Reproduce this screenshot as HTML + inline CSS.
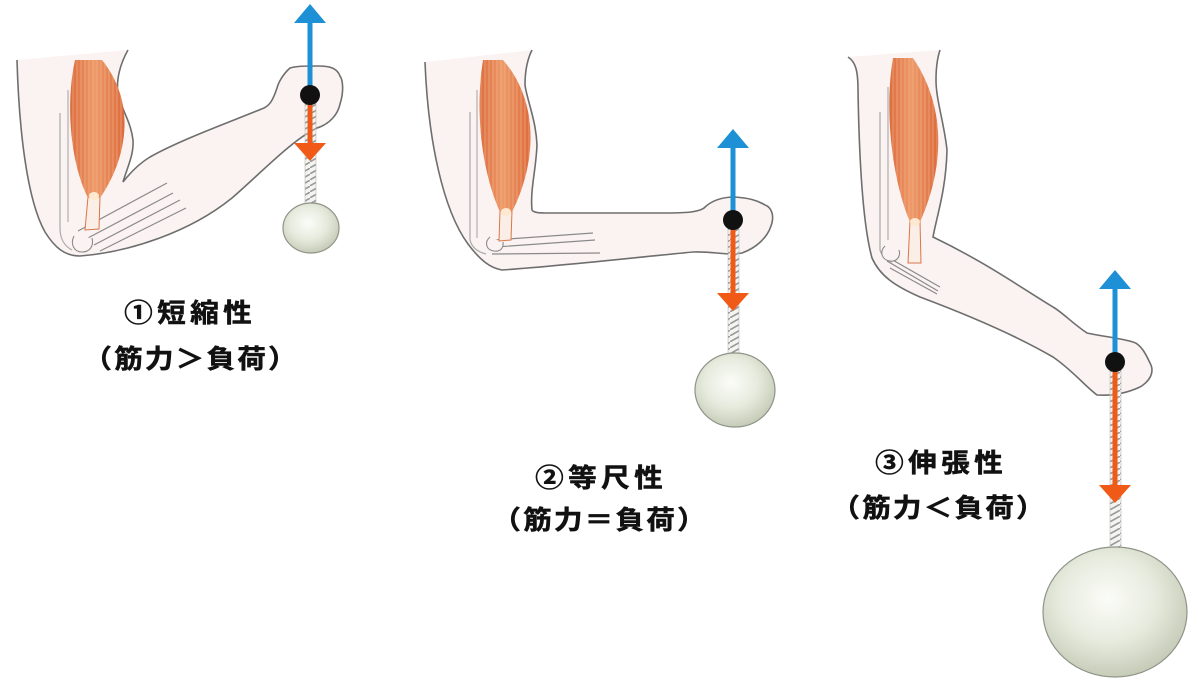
<!DOCTYPE html>
<html>
<head>
<meta charset="utf-8">
<style>
html,body{margin:0;padding:0;background:#fff;}
#wrap{position:relative;width:1198px;height:686px;overflow:hidden;background:#fff;}
svg{position:absolute;left:0;top:0;}
.t{position:absolute;width:400px;text-align:center;font-family:"Noto Sans CJK JP","Liberation Sans",sans-serif;font-weight:700;font-size:26px;line-height:30px;color:#111;white-space:nowrap;transform:scaleX(1.1);transform-origin:center center;-webkit-text-stroke:0.5px #111;}
.l1{letter-spacing:4px;padding-left:4px;box-sizing:border-box;}
.l2{letter-spacing:2px;padding-left:2px;box-sizing:border-box;}
</style>
</head>
<body>
<div id="wrap">
<svg width="1198" height="686" viewBox="0 0 1198 686" xmlns="http://www.w3.org/2000/svg">
<defs>
  <radialGradient id="ball" cx="45%" cy="40%" r="60%">
    <stop offset="0%" stop-color="#fbfcf8"/>
    <stop offset="55%" stop-color="#e7ebde"/>
    <stop offset="100%" stop-color="#c6ccb8"/>
  </radialGradient>
  <linearGradient id="mus" x1="0" y1="0" x2="1" y2="0">
    <stop offset="0%" stop-color="#dc6d3e"/>
    <stop offset="45%" stop-color="#ee9a68"/>
    <stop offset="100%" stop-color="#dc6a3a"/>
  </linearGradient>
  <pattern id="rope" width="10" height="6" patternUnits="userSpaceOnUse">
    <rect width="10" height="6" fill="#f4f4f2"/>
    <path d="M-2,7 L12,-1" stroke="#9a9a98" stroke-width="1.6"/>
  </pattern>
  <pattern id="strip" width="4" height="8" patternUnits="userSpaceOnUse">
    <rect width="4" height="8" fill="none"/>
    <line x1="1" y1="0" x2="1" y2="8" stroke="#f7c0a0" stroke-width="0.7" opacity="0.7"/>
  </pattern>
</defs>

<!-- ============ FIGURE 1 ============ -->
<path d="M17,60 C19,130 27,200 45,232 C55,248 65,256 80,256 C130,252 190,232 232,198 C262,172 292,140 317,128 C330,124 338,114 340,104 C344,92 343,80 340,76 C337,68 330,66 318,66 C305,66 297,66 290,68 C282,75 278,84 277,88 C273,100 270,105 264,108 C230,122 180,140 150,157 C140,163 130,173 123,182 C127,168 134,155 133,140 C131,122 121,108 118,94 C116,80 120,64 128,50 L17,60 Z" fill="#fbf3f2"/>
<path d="M17,60 C19,130 27,200 45,232 C55,248 65,256 80,256 C130,252 190,232 232,198 C262,172 292,140 317,128 C330,124 338,114 340,104 C344,92 343,80 340,76 C337,68 330,66 318,66 C305,66 297,66 290,68 C282,75 278,84 277,88 C273,100 270,105 264,108 C230,122 180,140 150,157 C140,163 130,173 123,182 C127,168 134,155 133,140 C131,122 121,108 118,94 C116,80 120,64 128,50" fill="none" stroke="#6e6e6e" stroke-width="1.6"/>
<path d="M60,113 L60,228 C60,238 64,246 72,250" fill="none" stroke="#a8a8a8" stroke-width="1.2"/>
<path d="M68,90 L68,222" fill="none" stroke="#b0b0b0" stroke-width="1.2"/>
<path d="M78,231 L167,183 M86,239 L173,193 M94,245 L180,200 M100,251 L186,208" stroke="#8a8a8a" stroke-width="1.2" fill="none"/>
<path d="M74,236 C70,244 74,252 82,252 C90,252 94,246 92,238" fill="#fbf3f2" stroke="#8a8a8a" stroke-width="1.1"/>
<path d="M88,197 L100,197 L99,229 L85,230 Z" fill="#fbeee6" stroke="#d8764a" stroke-width="1"/>
<path d="M75,60 C66,100 69,160 88,198 L100,198 C126,160 138,105 102,60 Z" fill="url(#mus)"/>
<path d="M75,60 C66,100 69,160 88,198 L100,198 C126,160 138,105 102,60 Z" fill="url(#strip)"/>
<ellipse cx="94" cy="196" rx="5" ry="4" fill="#fde8d0"/>
<rect x="305" y="100" width="11" height="106" fill="url(#rope)" stroke="#b8b8b6" stroke-width="0.6"/>
<ellipse cx="311" cy="228" rx="28" ry="25" fill="url(#ball)" stroke="#8f9488" stroke-width="1.2"/>
<line x1="310" y1="20" x2="310" y2="92" stroke="#1e90d6" stroke-width="5"/>
<polygon points="294,23 326,23 310,4" fill="#1e90d6"/>
<line x1="310" y1="100" x2="310" y2="146" stroke="#f15a16" stroke-width="5"/>
<polygon points="294,143 326,143 310,161" fill="#f15a16"/>
<circle cx="310" cy="95" r="10" fill="#111"/>

<!-- ============ FIGURE 2 ============ -->
<path d="M425,62 C428,140 443,210 468,244 C480,260 490,268 502,270 C560,266 640,257 693,252 C712,251 728,256 742,253 C756,248 767,238 771,226 C775,215 771,207 765,205 C757,200 748,198 735,197 C722,197 712,200 704,208 C697,213 680,213 660,213 L545,213 C538,213 533,212 532,210 C530,190 536,170 537,145 C536,120 527,100 525,85 C525,70 528,58 532,50 L425,62 Z" fill="#fbf3f2"/>
<path d="M425,62 C428,140 443,210 468,244 C480,260 490,268 502,270 C560,266 640,257 693,252 C712,251 728,256 742,253 C756,248 767,238 771,226 C775,215 771,207 765,205 C757,200 748,198 735,197 C722,197 712,200 704,208 C697,213 680,213 660,213 L545,213 C538,213 533,212 532,210 C530,190 536,170 537,145 C536,120 527,100 525,85 C525,70 528,58 532,50" fill="none" stroke="#6e6e6e" stroke-width="1.6"/>
<path d="M470,112 L470,240 C472,248 478,252 486,254" fill="none" stroke="#a8a8a8" stroke-width="1.2"/>
<path d="M477,90 L477,238" fill="none" stroke="#b0b0b0" stroke-width="1.2"/>
<path d="M494,240 L593,233 M496,247 L595,240 M492,254 L600,253" stroke="#8a8a8a" stroke-width="1.2" fill="none"/>
<path d="M490,237 C484,242 486,250 494,251 C500,252 504,248 503,242" fill="#fbf3f2" stroke="#8a8a8a" stroke-width="1.1"/>
<path d="M500,211 L512,211 L511,240 L499,241 Z" fill="#fbeee6" stroke="#d8764a" stroke-width="1"/>
<path d="M483,60 C475,110 481,170 500,212 L512,212 C538,160 538,100 503,60 Z" fill="url(#mus)"/>
<path d="M483,60 C475,110 481,170 500,212 L512,212 C538,160 538,100 503,60 Z" fill="url(#strip)"/>
<ellipse cx="506" cy="212" rx="5" ry="4" fill="#fde8d0"/>
<rect x="728" y="225" width="11" height="130" fill="url(#rope)" stroke="#b8b8b6" stroke-width="0.6"/>
<ellipse cx="735" cy="390" rx="40" ry="37" fill="url(#ball)" stroke="#8f9488" stroke-width="1.2"/>
<line x1="733" y1="145" x2="733" y2="214" stroke="#1e90d6" stroke-width="5"/>
<polygon points="717,148 749,148 733,129" fill="#1e90d6"/>
<line x1="733" y1="226" x2="733" y2="296" stroke="#f15a16" stroke-width="5"/>
<polygon points="717,293 749,293 733,311" fill="#f15a16"/>
<circle cx="733" cy="220" r="10" fill="#111"/>

<!-- ============ FIGURE 3 ============ -->
<path d="M848,57 C856,62 858,72 858,90 C859,150 862,222 872,258 C880,276 895,286 920,297 C960,312 1010,332 1053,357 C1072,370 1085,386 1097,395 C1112,396 1127,393 1140,387 C1150,381 1155,372 1150,363 C1145,352 1140,344 1133,342 C1120,338 1100,336 1087,333 C1072,323 1062,312 1053,307 C1020,287 985,262 933,237 C937,215 946,190 947,150 C944,122 936,100 936,80 C936,66 938,56 940,50 L848,57 Z" fill="#fbf3f2"/>
<path d="M848,57 C856,62 858,72 858,90 C859,150 862,222 872,258 C880,276 895,286 920,297 C960,312 1010,332 1053,357 C1072,370 1085,386 1097,395 C1112,396 1127,393 1140,387 C1150,381 1155,372 1150,363 C1145,352 1140,344 1133,342 C1120,338 1100,336 1087,333 C1072,323 1062,312 1053,307 C1020,287 985,262 933,237 C937,215 946,190 947,150 C944,122 936,100 936,80 C936,66 938,56 940,50" fill="none" stroke="#6e6e6e" stroke-width="1.6"/>
<path d="M880,112 L880,250 C882,256 886,260 892,262" fill="none" stroke="#a8a8a8" stroke-width="1.2"/>
<path d="M888,87 L888,240" fill="none" stroke="#b0b0b0" stroke-width="1.2"/>
<path d="M882,254 L940,287 M887,261 L938,291 M890,268 L937,294" stroke="#8a8a8a" stroke-width="1.2" fill="none"/>
<path d="M885,246 C879,252 882,260 890,261 C897,262 901,256 899,250" fill="#fbf3f2" stroke="#8a8a8a" stroke-width="1.1"/>
<path d="M910,221 L920,221 L921,263 L908,263 Z" fill="#fbeee6" stroke="#d8764a" stroke-width="1"/>
<path d="M893,58 C884,110 892,180 910,222 L920,222 C943,170 948,110 913,58 Z" fill="url(#mus)"/>
<path d="M893,58 C884,110 892,180 910,222 L920,222 C943,170 948,110 913,58 Z" fill="url(#strip)"/>
<ellipse cx="915" cy="222" rx="5" ry="4" fill="#fde8d0"/>
<rect x="1110" y="367" width="11" height="182" fill="url(#rope)" stroke="#b8b8b6" stroke-width="0.6"/>
<ellipse cx="1115" cy="612" rx="72" ry="65" fill="url(#ball)" stroke="#8f9488" stroke-width="1.2"/>
<line x1="1115" y1="286" x2="1115" y2="356" stroke="#1e90d6" stroke-width="5"/>
<polygon points="1099,289 1131,289 1115,270" fill="#1e90d6"/>
<line x1="1115" y1="368" x2="1115" y2="488" stroke="#f15a16" stroke-width="5"/>
<polygon points="1099,485 1131,485 1115,503" fill="#f15a16"/>
<circle cx="1115" cy="362" r="10" fill="#111"/>
</svg>

<div class="t l1" style="left:-12px;top:297px;">①短縮性</div>
<div class="t l2" style="left:-10px;top:343px;">（筋力＞負荷）</div>

<div class="t l1" style="left:399px;top:462px;">②等尺性</div>
<div class="t l2" style="left:399px;top:504px;">（筋力＝負荷）</div>

<div class="t l1" style="left:739px;top:447px;">③伸張性</div>
<div class="t l2" style="left:738px;top:492px;">（筋力＜負荷）</div>
</div>
</body>
</html>
